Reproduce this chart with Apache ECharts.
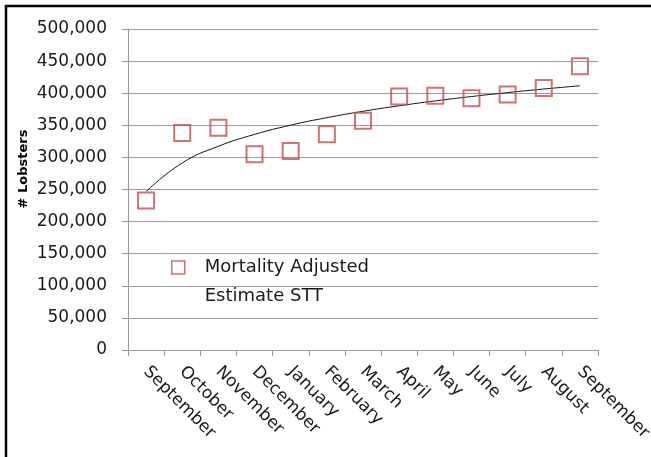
<!DOCTYPE html>
<html>
<head>
<meta charset="utf-8">
<script src="https://cdn.jsdelivr.net/npm/echarts@6/dist/echarts.min.js"></script>
<style>
html,body{margin:0;padding:0;background:#fff;}
#chart{width:651px;height:457px;}
</style>
</head>
<body>
<div id="chart"></div>
<script>
const months = ['September','October','November','December','January','February','March','April','May','June','July','August','September'];
const estimateSTT = [233000, 338000, 346000, 305000, 310000, 336000, 357000, 395000, 396000, 392000, 398000, 408000, 442000];
const trendLine = [246700, 291300, 317300, 335800, 350200, 361900, 371800, 380400, 388000, 394800, 400900, 406500, 411600];
const yTicks = { min: 0, max: 500000, interval: 50000 };
const seriesName = 'Mortality Adjusted\nEstimate STT';
const yTitle = '# Lobsters';

const chart = echarts.init(document.getElementById('chart'), null, {renderer: 'canvas'});
const font = 'DejaVu Sans';
const gridColor = '#9a9a9a';
chart.setOption({
  animation: false,
  backgroundColor: '#fff',
  grid: {left: 128, right: 53, top: 29, bottom: 107, containLabel: false, outerBoundsMode: 'none'},
  xAxis: {
    type: 'category',
    data: months,
    boundaryGap: true,
    axisLine: {lineStyle: {color: gridColor, width: 1}},
    axisTick: {show: true, length: 6, lineStyle: {color: gridColor}},
    axisLabel: {interval: 0, rotate: -45, margin: 19, color: '#1a1a1a', fontFamily: font, fontSize: 17}
  },
  yAxis: {
    type: 'value',
    min: yTicks.min, max: yTicks.max, interval: yTicks.interval,
    axisLine: {show: true, lineStyle: {color: gridColor, width: 1}},
    axisTick: {show: true, length: 6, lineStyle: {color: gridColor}},
    splitLine: {show: true, lineStyle: {color: gridColor, width: 1}},
    axisLabel: {
      margin: 21, color: '#1a1a1a', fontFamily: font, fontSize: 17,
      formatter: v => v.toLocaleString('en-US')
    }
  },
  legend: {
    show: true,
    left: 171, top: 224, padding: 0,
    orient: 'vertical',
    itemWidth: 13, itemHeight: 13,
    icon: 'rect',
    formatter: name => '\n' + name,
    data: [{name: seriesName, itemStyle: {color: 'rgba(0,0,0,0)', borderColor: '#C0504D', borderWidth: 1.5}}],
    textStyle: {fontFamily: font, fontSize: 18, color: '#1a1a1a', lineHeight: 29, padding: [0, 0, 0, 15]}
  },
  graphic: [
    {type: 'rect', silent: true, shape: {x: 6, y: 6, width: 700, height: 500}, style: {fill: 'none', stroke: '#000', lineWidth: 2.5}},
    {type: 'text', silent: true, x: 24, y: 169, rotation: Math.PI / 2,
     style: {text: yTitle, fontFamily: font, fontWeight: 'bold', fontSize: 13, fill: '#000', align: 'center', verticalAlign: 'middle'}}
  ],
  series: [
    {
      name: 'trend', type: 'line', data: trendLine, smooth: true, showSymbol: false, symbol: 'none',
      lineStyle: {color: '#111', width: 1}, z: 2, silent: true
    },
    {
      name: seriesName, type: 'scatter', data: estimateSTT, symbol: 'rect', symbolSize: 16,
      itemStyle: {color: 'rgba(0,0,0,0)', borderColor: '#C0504D', borderWidth: 2}, z: 3
    }
  ]
});
</script>
</body>
</html>
